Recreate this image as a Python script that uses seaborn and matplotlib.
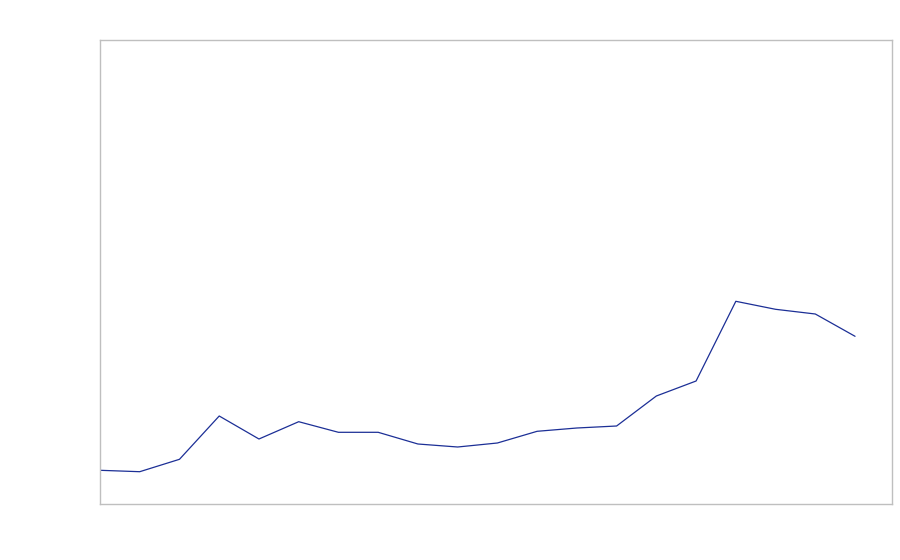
import matplotlib
matplotlib.use("Agg")
import matplotlib.pyplot as plt
import seaborn as sns
import pandas as pd

periods = list(range(20))
values = [33.7, 32.3, 44.7, 88.0, 65.0, 82.3, 71.7, 71.7, 60.0, 57.0,
          61.0, 72.7, 76.0, 78.0, 108.0, 123.0, 202.7, 194.7, 190.0, 167.7]

df = pd.DataFrame({"period": periods, "value": values})

sns.set_style("white")
fig = plt.figure(figsize=(9, 5.6), dpi=100)
ax = fig.add_axes([100/900, 1-504/560, 792/900, 464/560])
sns.lineplot(data=df, x="period", y="value", ax=ax, color="#1c2f96", linewidth=0.9)
ax.set_xlim(0, 19.93)
ax.set_ylim(0, 464)
ax.set_xticks([])
ax.set_yticks([])
ax.set_xlabel("")
ax.set_ylabel("")
for s in ax.spines.values():
    s.set_color("#bfbfbf")
    s.set_linewidth(1.0)
fig.savefig("out.png", dpi=100)
